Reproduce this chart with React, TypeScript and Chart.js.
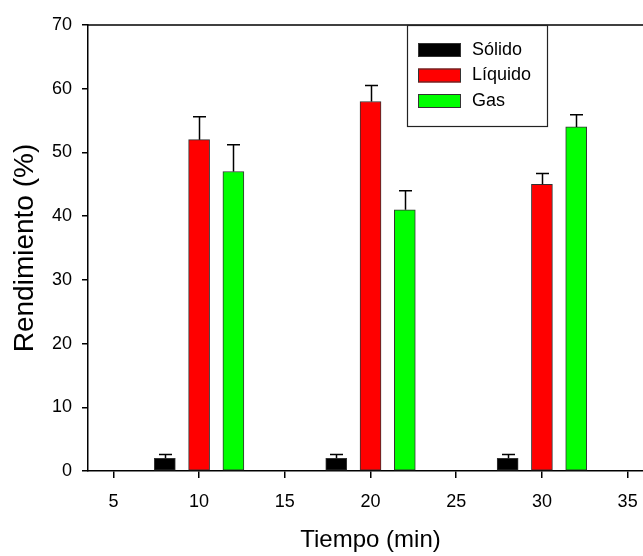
import React, { useEffect, useRef } from "react";
import { Chart, registerables } from "chart.js";

Chart.register(...registerables);

const seriesLabels = ["Sólido", "Líquido", "Gas"];
const seriesColors = ["#000000", "#ff0000", "#00ff00"];
const solidoX = [8, 18, 28];
const liquidoX = [10, 20, 30];
const gasX = [12, 22, 32];
const solido = [2, 2, 2];
const solidoErr = [0.6, 0.6, 0.6];
const liquido = [52, 58, 45];
const liquidoErr = [3.6, 2.5, 1.7];
const gas = [47, 41, 54];
const gasErr = [4.2, 3.0, 1.9];
const xTicks = [5, 10, 15, 20, 25, 30, 35];
const yTicks = [0, 10, 20, 30, 40, 50, 60, 70];
const xTitle = "Tiempo (min)";
const yTitle = "Rendimiento (%)";

const FONT = "'Liberation Sans', Arial, sans-serif";

const errorBarPlugin = {
  id: "errorBars",
  afterDatasetsDraw(chart: any) {
    const ctx = chart.ctx;
    const yScale = chart.scales.y;
    ctx.save();
    ctx.strokeStyle = "#000";
    ctx.lineWidth = 1.5;
    chart.data.datasets.forEach((ds: any, i: number) => {
      const meta = chart.getDatasetMeta(i);
      meta.data.forEach((el: any, j: number) => {
        const v = ds.data[j].y;
        const e = ds.errors[j];
        const yTop = yScale.getPixelForValue(v + e);
        const x = Math.round(el.x) + 0.5;
        ctx.beginPath();
        ctx.moveTo(x, el.y);
        ctx.lineTo(x, yTop);
        ctx.moveTo(x - 6.5, yTop);
        ctx.lineTo(x + 6.5, yTop);
        ctx.stroke();
      });
    });
    ctx.restore();
  },
};

const framePlugin = {
  id: "frameLegend",
  afterDraw(chart: any) {
    const ctx = chart.ctx;
    const a = chart.chartArea;
    ctx.save();
    ctx.strokeStyle = "#000";
    ctx.lineWidth = 1.5;
    ctx.beginPath();
    ctx.moveTo(a.left, a.top);
    ctx.lineTo(a.right, a.top);
    ctx.stroke();
    const bx = a.left + 319;
    const by = a.top;
    const bw = 140;
    const bh = 101;
    ctx.lineWidth = 1.2;
    ctx.strokeStyle = "#222";
    ctx.strokeRect(bx + 0.5, by + 0.5, bw, bh);
    ctx.font = `18px ${FONT}`;
    ctx.textBaseline = "middle";
    ctx.textAlign = "left";
    chart.data.datasets.forEach((ds: any, i: number) => {
      const cy = by + 25 + i * 25.5;
      ctx.fillStyle = ds.backgroundColor;
      ctx.fillRect(bx + 11, cy - 7, 43, 14);
      ctx.strokeStyle = "#333";
      ctx.lineWidth = 1;
      ctx.strokeRect(bx + 11.5, cy - 6.5, 42, 13);
      ctx.fillStyle = "#000";
      ctx.fillText(ds.label, bx + 65, cy);
    });
    ctx.restore();
  },
};

export default function App() {
  const ref = useRef<HTMLCanvasElement>(null);
  useEffect(() => {
    if (!ref.current) return;
    const xs = [solidoX, liquidoX, gasX];
    const ys = [solido, liquido, gas];
    const errs = [solidoErr, liquidoErr, gasErr];
    const chart = new Chart(ref.current, {
      type: "bar",
      data: {
        datasets: seriesLabels.map((label, i) => ({
          label,
          data: xs[i].map((x, j) => ({ x, y: ys[i][j] })),
          errors: errs[i],
          backgroundColor: seriesColors[i],
          borderColor: "#333",
          borderWidth: 1,
          borderSkipped: false,
          barThickness: 21,
          grouped: false,
        })) as any,
      },
      options: {
        animation: false,
        responsive: false,
        maintainAspectRatio: false,
        layout: { padding: { top: 25, right: 7, left: 0, bottom: 0 } },
        plugins: { legend: { display: false }, tooltip: { enabled: false } },
        scales: {
          x: {
            type: "linear",
            offset: false,
            min: 3.518,
            max: 36.48,
            afterBuildTicks: (s: any) => {
              s.ticks = xTicks.map((v) => ({ value: v }));
            },
            afterFit: (s: any) => {
              s.height = 85;
            },
            grid: { offset: false, drawOnChartArea: false, drawTicks: true, tickLength: 7, color: "#000", lineWidth: 1.5 },
            border: { display: true, color: "#000", width: 1.5 },
            ticks: { color: "#000", font: { family: FONT, size: 18 }, padding: 13, maxRotation: 0 },
            title: { display: true, text: xTitle, color: "#000", font: { family: FONT, size: 24 }, padding: { top: 0, bottom: 1 } },
          },
          y: {
            type: "linear",
            min: 0,
            max: 70,
            afterBuildTicks: (s: any) => {
              s.ticks = yTicks.map((v) => ({ value: v }));
            },
            afterFit: (s: any) => {
              s.width = 88;
            },
            grid: { drawOnChartArea: false, drawTicks: true, tickLength: 6, color: "#000", lineWidth: 1.5 },
            border: { display: true, color: "#000", width: 1.5 },
            ticks: { color: "#000", font: { family: FONT, size: 18 }, padding: 10 },
            title: { display: true, text: yTitle, color: "#000", font: { family: FONT, size: 28 }, padding: { top: 8, bottom: 0 } },
          },
        },
      },
      plugins: [errorBarPlugin, framePlugin],
    } as any);
    return () => chart.destroy();
  }, []);
  return (
    <div style={{ position: "fixed", left: 0, top: 0, width: 643, height: 556, overflow: "hidden", background: "#fff" }}>
      <canvas ref={ref} width={660} height={556} style={{ width: 660, height: 556, display: "block" }} />
    </div>
  );
}
